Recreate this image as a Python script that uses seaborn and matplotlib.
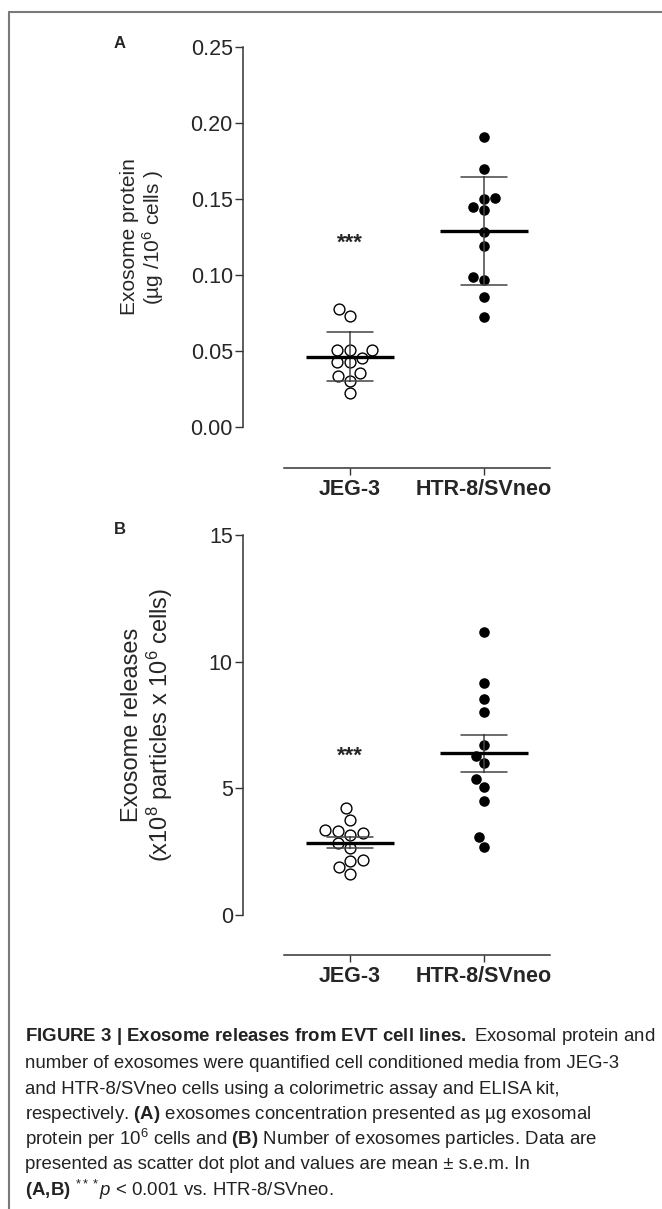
import numpy as np
import pandas as pd
import matplotlib
matplotlib.use("Agg")
import matplotlib.pyplot as plt
import seaborn as sns
from matplotlib.lines import Line2D

# ---- data ----
cats = ["JEG-3", "HTR-8/SVneo"]

protein_jeg = [0.0774, 0.0732, 0.0507, 0.0456, 0.0425, 0.0507,
               0.0507, 0.0425, 0.0353, 0.0338, 0.0303, 0.0222]
protein_htr = [0.1906, 0.1695, 0.1500, 0.1509, 0.1428, 0.1449,
               0.1281, 0.1193, 0.0967, 0.0985, 0.0853, 0.0722]

release_jeg = [4.21, 3.75, 3.22, 3.36, 3.16, 3.33,
               2.83, 2.63, 2.13, 1.88, 2.17, 1.61]
release_htr = [11.18, 9.15, 8.51, 8.03, 6.71, 6.28,
               6.01, 5.37, 5.07, 4.50, 3.07, 2.70]

yticks_a = [0.00, 0.05, 0.10, 0.15, 0.20, 0.25]
yticks_b = [0, 5, 10, 15]

caption = [
    r"$\mathbf{FIGURE\ 3\ |\ Exosome\ releases\ from\ EVT\ cell\ lines.}$ Exosomal protein and",
    "number of exosomes were quantified cell conditioned media from JEG-3",
    "and HTR-8/SVneo cells using a colorimetric assay and ELISA kit,",
    r"respectively. $\mathbf{(A)}$ exosomes concentration presented as µg exosomal",
    r"protein per 10$^6$ cells and $\mathbf{(B)}$ Number of exosomes particles. Data are",
    "presented as scatter dot plot and values are mean ± s.e.m. In",
    r"$\mathbf{(A,\!B)}$ $^{***}\mathit{p}$ < 0.001 vs. HTR-8/SVneo.",
]

# ---- style ----
sns.set_style("ticks")
plt.rcParams["font.family"] = ["Liberation Sans", "DejaVu Sans"]
plt.rcParams["mathtext.fontset"] = "custom"
plt.rcParams["mathtext.rm"] = "Liberation Sans"
plt.rcParams["mathtext.bf"] = "Liberation Sans:bold"
plt.rcParams["mathtext.it"] = "Liberation Sans:italic"

W, H = 662, 1209
fig = plt.figure(figsize=(W / 100, H / 100), dpi=100)


def px_axes(left, top, right, bottom):
    return fig.add_axes([left / W, 1 - bottom / H, (right - left) / W, (bottom - top) / H])


def panel(ax, jeg, htr, err, ylim, yticks, fmt, outward):
    df = pd.DataFrame({"line": [cats[0]] * len(jeg) + [cats[1]] * len(htr),
                       "value": jeg + htr})
    sns.swarmplot(data=df[df.line == cats[0]], x="line", y="value", order=cats,
                  color="white", edgecolor="black", linewidth=1.0, size=7.8, ax=ax)
    sns.swarmplot(data=df[df.line == cats[1]], x="line", y="value", order=cats,
                  color="black", size=7.6, ax=ax)
    sns.pointplot(data=df, x="line", y="value", order=cats, errorbar=err,
                  capsize=0.34, color="black", marker="_", markersize=63,
                  markeredgewidth=2.4, markeredgecolor="black", linestyle="none",
                  err_kws={"linewidth": 1.1, "color": "#444444", "zorder": 4},
                  zorder=5, ax=ax)
    sns.despine(ax=ax)
    # spine position first: it resets the ticks
    ax.spines["bottom"].set_position(("outward", outward))
    ax.spines["bottom"].set_bounds(-0.4925, 1.4925)
    for s in ["left", "bottom"]:
        ax.spines[s].set_color("#333333")
        ax.spines[s].set_linewidth(1.1)
    ax.set_xlim(-0.7985, 1.4925)
    ax.set_ylim(*ylim)
    ax.set_yticks(yticks)
    ax.set_yticklabels([fmt.format(t) for t in yticks], fontsize=15.5)
    ax.set_xticks([0, 1])
    ax.set_xticklabels(cats, fontsize=15.5, fontweight="bold")
    ax.set_xlabel("")
    ax.set_ylabel("")
    ax.tick_params(axis="y", length=5.8, width=1.0, color="#333333", pad=1.5)
    ax.tick_params(axis="x", length=5.2, width=1.0, color="#333333", pad=3)
    ax.patch.set_alpha(0)


# Panel A
axA = px_axes(243, 47, 550, 427)
panel(axA, protein_jeg, protein_htr, "sd", (0, 0.25), yticks_a, "{:.2f}", 29.5)
axA.text(0, 0.121, "***", ha="center", va="center", fontsize=16, fontweight="bold")

# Panel B
axB = px_axes(243, 535, 550, 915)
panel(axB, release_jeg, release_htr, "se", (0, 15), yticks_b, "{:d}", 28.8)
axB.text(0, 6.28, "***", ha="center", va="center", fontsize=16, fontweight="bold")

# panel letters
fig.text(120 / W, 1 - 43 / H, "A", ha="center", va="center", fontsize=12, fontweight="bold")
fig.text(120 / W, 1 - 530 / H, "B", ha="center", va="center", fontsize=12, fontweight="bold")

# y labels
fig.text(143 / W, 1 - 237 / H, "Exosome protein\n(µg /10$^6$ cells )", rotation=90,
         ha="center", va="center", fontsize=15, linespacing=1.05, multialignment="center")
fig.text(148 / W, 1 - 725 / H, "Exosome releases\n(x10$^8$ particles x 10$^6$ cells)",
         rotation=90, ha="center", va="center", fontsize=17, linespacing=1.05,
         multialignment="center")

# caption
line_y = [1036.7, 1063.3, 1089, 1114.3, 1139.3, 1164.3, 1190]
for txt, yy in zip(caption, line_y):
    fig.text(25 / W, 1 - yy / H, txt, ha="left", va="center", fontsize=13.4, color="#222222")

# frame (top and left edges only)
fig.add_artist(Line2D([9 / W, 1], [1 - 12 / H, 1 - 12 / H], color="#7a7a7a", lw=1.5))
fig.add_artist(Line2D([9 / W, 9 / W], [0, 1 - 12 / H], color="#7a7a7a", lw=1.5))

fig.savefig("out.png", dpi=100)
